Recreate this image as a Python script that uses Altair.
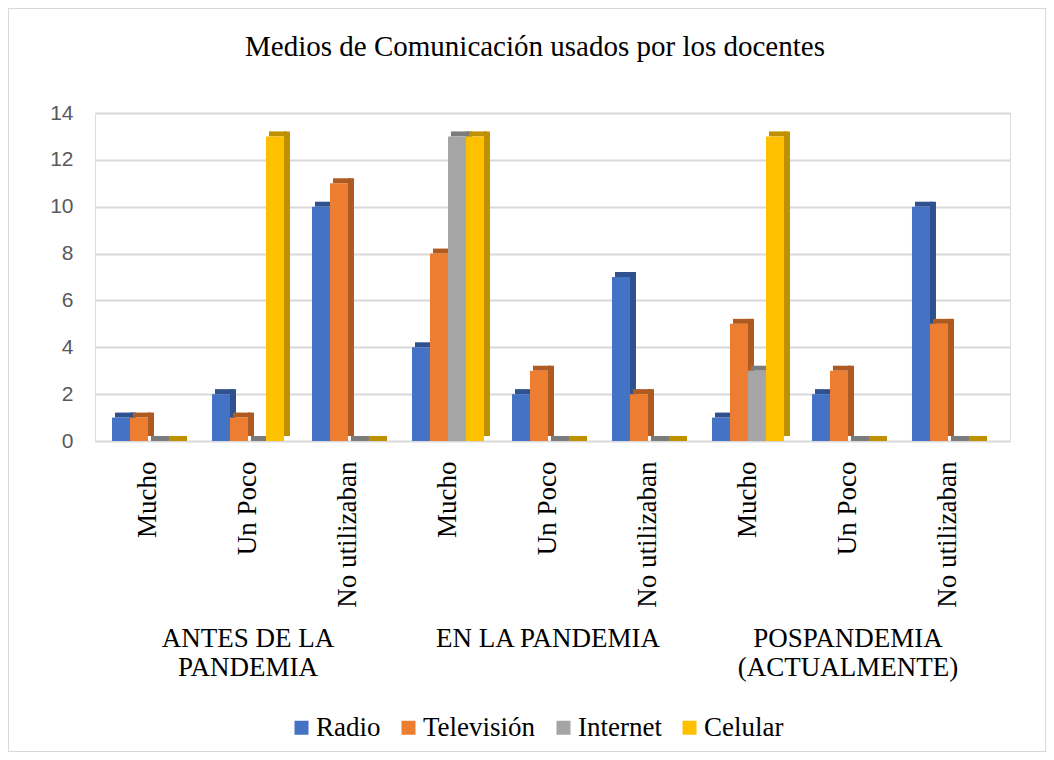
import altair as alt
import pandas as pd

title_text = "Medios de Comunicación usados por los docentes"
groups = ["ANTES DE LA\nPANDEMIA", "EN LA PANDEMIA", "POSPANDEMIA\n(ACTUALMENTE)"]
subcats = ["Mucho", "Un Poco", "No utilizaban"]
series = ["Radio", "Televisión", "Internet", "Celular"]
colors = ["#4472C4", "#ED7D31", "#A5A5A5", "#FFC000"]
dark = ["#2F528F", "#AE5A21", "#7C7C7C", "#BF9000"]

radio = [1, 2, 10, 4, 2, 7, 1, 2, 10]
television = [1, 1, 11, 8, 3, 2, 5, 3, 5]
internet = [0, 0, 0, 13, 0, 0, 3, 0, 0]
celular = [0, 13, 0, 13, 0, 0, 13, 0, 0]
values = [radio, television, internet, celular]

keys = [f"{gi}|{s}" for gi in range(len(groups)) for s in subcats]

rows = []
for si, s in enumerate(series):
    for ki, k in enumerate(keys):
        rows.append({"cat": k, "serie": s, "value": values[si][ki], "dark": dark[si]})
df = pd.DataFrame(rows)

gdf = pd.DataFrame({"cat": [f"{gi}|{subcats[1]}" for gi in range(len(groups))],
                    "glabel": groups})
tdf = pd.DataFrame({"t": [title_text]})

W, H = 915, 328
BAND = 72

base = alt.Chart(df)
x = alt.X("cat:N", sort=keys, title=None,
          scale=alt.Scale(paddingInner=0.28, paddingOuter=0.215, align=0.395),
          axis=alt.Axis(labelExpr="split(datum.label,'|')[1]", labelAngle=-90,
                        labelFont="Liberation Serif", labelFontSize=27, labelColor="#000000",
                        ticks=False, domain=False, grid=False, labelPadding=20))
y = alt.Y("value:Q", title=None,
          scale=alt.Scale(domain=[0, 14]),
          axis=alt.Axis(values=list(range(0, 15, 2)), labelFont="Liberation Sans",
                        labelFontSize=21, labelColor="#595959", ticks=False, domain=False,
                        gridColor="#d9d9d9", gridWidth=2, labelPadding=22))


def xo(shift):
    return alt.XOffset("serie:N", sort=series,
                       scale=alt.Scale(domain=series, range=[shift, BAND + shift],
                                       paddingInner=0, paddingOuter=0))


side = base.mark_bar(width=6, yOffset=-5, y2Offset=-5).encode(
    x=x, xOffset=xo(12), y=y, fill=alt.Fill("dark:N", scale=None))
cap = base.mark_bar(width=18, yOffset=-5, y2Offset=0).encode(
    x=x, xOffset=xo(3), y=y, y2="value:Q", fill=alt.Fill("dark:N", scale=None))
front = base.mark_bar(width=18).encode(
    x=x, xOffset=xo(0), y=y,
    color=alt.Color("serie:N", sort=series,
                    scale=alt.Scale(domain=series, range=colors),
                    legend=alt.Legend(title=None, orient="none", direction="horizontal",
                                      legendX=193, legendY=601, symbolType="square",
                                      symbolSize=196, symbolStrokeWidth=0,
                                      labelFont="Liberation Serif", labelFontSize=27,
                                      labelColor="#000000", columnPadding=14,
                                      symbolOffset=0, labelOffset=1, padding=0)))

glab = alt.Chart(gdf).mark_text(font="Liberation Serif", fontSize=27, color="#000000",
                                lineBreak="\n", baseline="top", lineHeight=29).encode(
    x=alt.X("cat:N", sort=keys), y=alt.value(513), text="glabel:N")

ttl = alt.Chart(tdf).mark_text(font="Liberation Serif", fontSize=29, color="#000000",
                               baseline="middle", align="center").encode(
    x=alt.value(440), y=alt.value(-66), text="t:N")

border = alt.Chart(gdf).mark_rect(fill=None, stroke="#d9d9d9", strokeWidth=1).encode(
    x=alt.value(-86.5), x2=alt.value(W + 35.5), y=alt.value(-104.5), y2=alt.value(H + 310.5))

chart = alt.layer(border, side, cap, front, glab, ttl).resolve_scale(
    xOffset="independent"
).properties(
    width=W, height=H,
    autosize=alt.AutoSizeParams(type="none"),
    padding={"left": 87, "top": 105, "right": 36, "bottom": 311},
).configure_view(stroke=None).configure(background="#ffffff").configure_legend(
    labelFont="Liberation Serif", labelFontSize=27, labelColor="#000000"
)

chart.save("out.html", embed_options={"renderer": "svg", "actions": False})
